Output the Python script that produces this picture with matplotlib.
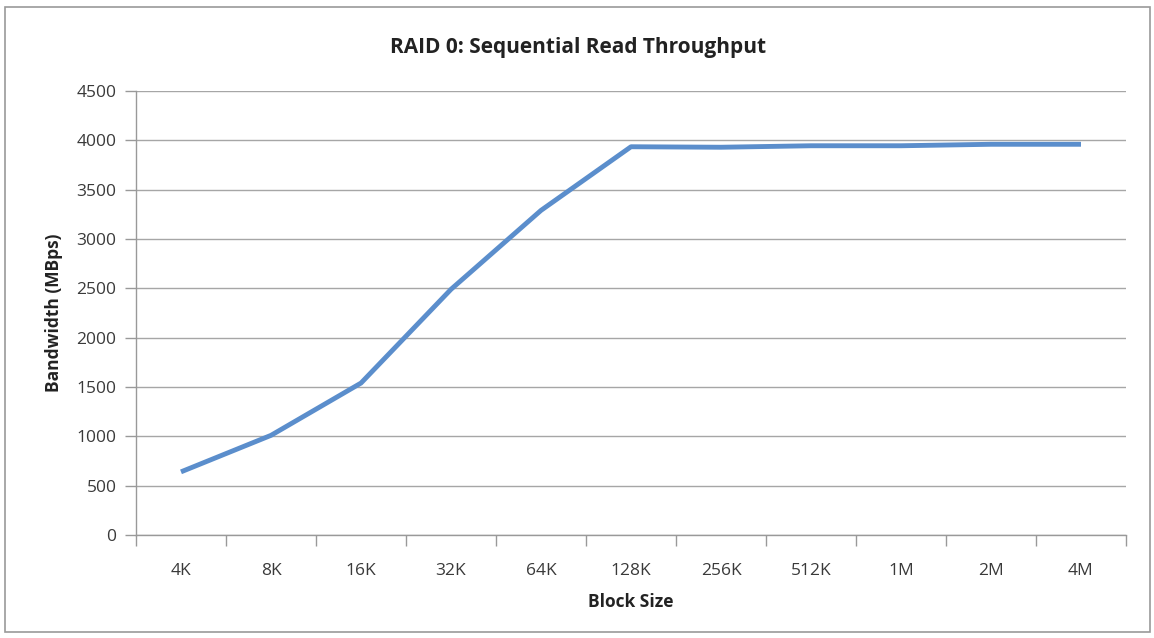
import matplotlib
matplotlib.use("Agg")
import matplotlib.pyplot as plt
from matplotlib.patches import Rectangle

categories = ["4K", "8K", "16K", "32K", "64K", "128K", "256K", "512K", "1M", "2M", "4M"]
bandwidth = [640, 1010, 1540, 2490, 3290, 3935, 3930, 3945, 3945, 3960, 3960]
yticks = [0, 500, 1000, 1500, 2000, 2500, 3000, 3500, 4000, 4500]

plt.rcParams['font.family'] = ['Open Sans', 'DejaVu Sans']

fig = plt.figure(figsize=(11.54, 6.38), dpi=100)
fig.patch.set_facecolor('white')
fig.patches.append(Rectangle((5/1154, 6/638), 1145/1154, 625/638, transform=fig.transFigure,
                             fill=False, edgecolor='#9a9a9a', linewidth=1.2))

ax = fig.add_axes([136/1154, 103/638, 990/1154, 444/638])
x = list(range(len(categories)))
ax.plot(x, bandwidth, color='#5b8ecc', linewidth=3.5, solid_capstyle='butt', zorder=3)

ax.set_xlim(-0.5, len(categories) - 0.5)
ax.set_ylim(0, 4500)
ax.set_yticks(yticks)
ax.set_yticklabels([str(v) for v in yticks], fontsize=12.5, color='#3a3a3a')
ax.set_xticks(x)
ax.set_xticklabels(categories, fontsize=12.5, color='#3a3a3a')
ax.tick_params(axis='x', length=0, pad=20)
ax.set_xticks([i - 0.5 for i in range(len(categories) + 1)], minor=True)
ax.tick_params(axis='x', which='minor', length=8, color='#999999', width=1)
ax.tick_params(axis='y', length=8, color='#999999', width=1, pad=6)

ax.grid(axis='y', color='#a6a6a6', linewidth=1)
ax.set_axisbelow(True)
for s in ['top', 'right']:
    ax.spines[s].set_visible(False)
for s in ['left', 'bottom']:
    ax.spines[s].set_color('#999999')
    ax.spines[s].set_linewidth(1)

ax.set_xlabel("Block Size", fontsize=12.5, fontweight='bold', color='#222222', labelpad=10)
ax.set_ylabel("Bandwidth (MBps)", fontsize=12.5, fontweight='bold', color='#222222', labelpad=10)
fig.text(578 / 1154, 1 - 47/638, "RAID 0: Sequential Read Throughput",
         ha='center', va='center', fontsize=15, fontweight='bold', color='#222222')

fig.savefig("out.png", dpi=100)
